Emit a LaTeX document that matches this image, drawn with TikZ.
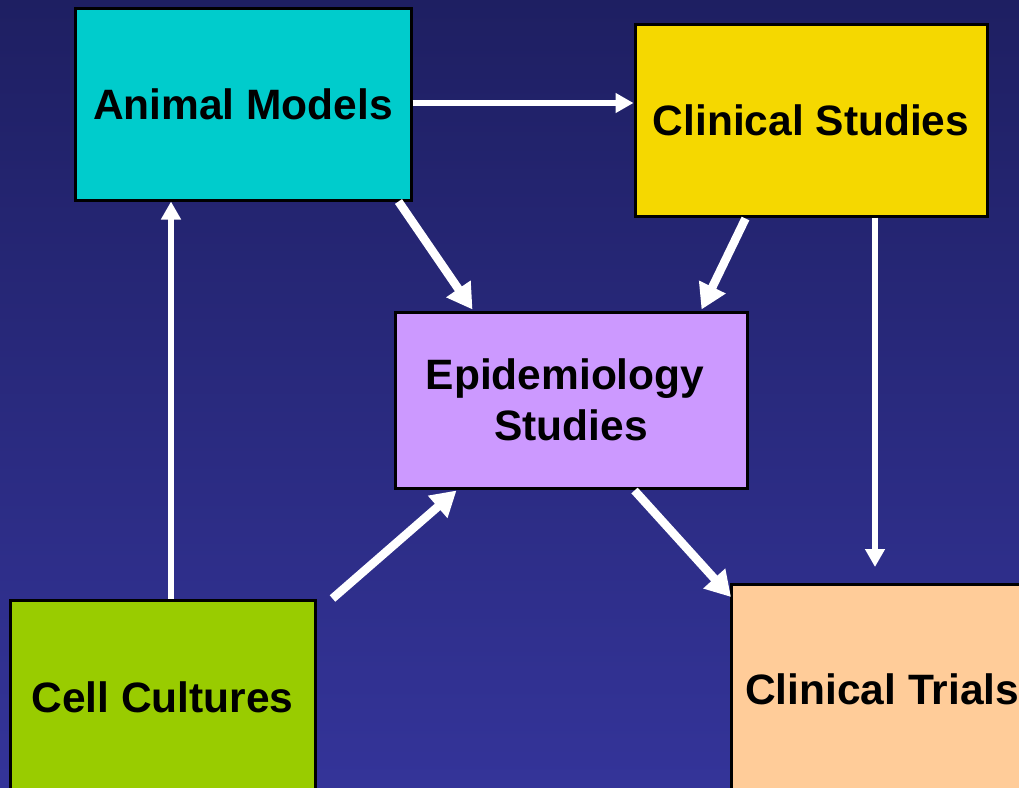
\documentclass[tikz,border=0pt]{standalone}
\usepackage{fontspec}
\setmainfont{Liberation Sans}
\usetikzlibrary{arrows.meta,calc}
\definecolor{bgtop}{HTML}{1E1F62}
\definecolor{bgbot}{HTML}{343499}
\definecolor{amfill}{HTML}{00CCCC}
\definecolor{csfill}{HTML}{F5D800}
\definecolor{epifill}{HTML}{CC99FF}
\definecolor{ccfill}{HTML}{99CC00}
\definecolor{ctfill}{HTML}{FFCC99}
\tikzset{
  box/.style={draw=black, line width=3pt, inner sep=0pt, font=\fontsize{42.5}{51}\selectfont\bfseries, text=black},
  conn/.style={draw=white, line width=6pt, -{Triangle[length=18pt,width=19pt]}},
  diag/.style={draw=white, line width=8.5pt, -{Triangle[length=25pt,width=28pt]}}
}
\begin{document}
\begin{tikzpicture}[x=1pt,y=-1pt]
\clip (0,0) rectangle (1019,787);
\shade[top color=bgtop, bottom color=bgbot] (0,0) rectangle (1019,787);
% boxes
\node[box, fill=amfill, minimum width=336pt, minimum height=192pt] (am) at (243,104) {Animal Models};
\node[box, fill=csfill, minimum width=352pt, minimum height=192pt] (cs) at (811,120) {Clinical Studies};
\node[box, fill=epifill, minimum width=352pt, minimum height=176pt, align=center] (epi) at (571,400) {Epidemiology\kern12pt\\Studies};
\node[box, fill=ccfill, minimum width=305pt, minimum height=194pt] (cc) at (162.5,697) {Cell Cultures};
\draw[black, line width=3pt, fill=ctfill] (731,584) rectangle (1080,800);
\coordinate (ctnw) at (731,584);
\node[font=\fontsize{42.5}{51}\selectfont\bfseries, anchor=west, inner sep=0pt] (ct) at (745,689) {Clinical Trials};
% connectors
\draw[conn] (am.east |- 0,103) -- (cs.west |- 0,103);
\draw[diag] ($(am.south east)+(-14,0)$) -- ($(epi.north west)+(79,-1)$);
\draw[diag] ($(cs.south west)+(112,1)$) -- ($(epi.north east)+(-47,-1)$);
\draw[diag] ($(cc.north east)+(16,0)$) -- ($(epi.south west)+(63,1)$);
\draw[diag] ($(epi.south west)+(241,1)$) -- ($(ctnw)+(0,13)$);
\draw[conn] ($(cc.north)+(8.5,0)$) -- ($(am.south)+(-72,0)$);
\draw[conn] ($(cs.south)+(64,0)$) -- ($(ctnw)+(144,-17)$);
\end{tikzpicture}
\end{document}
